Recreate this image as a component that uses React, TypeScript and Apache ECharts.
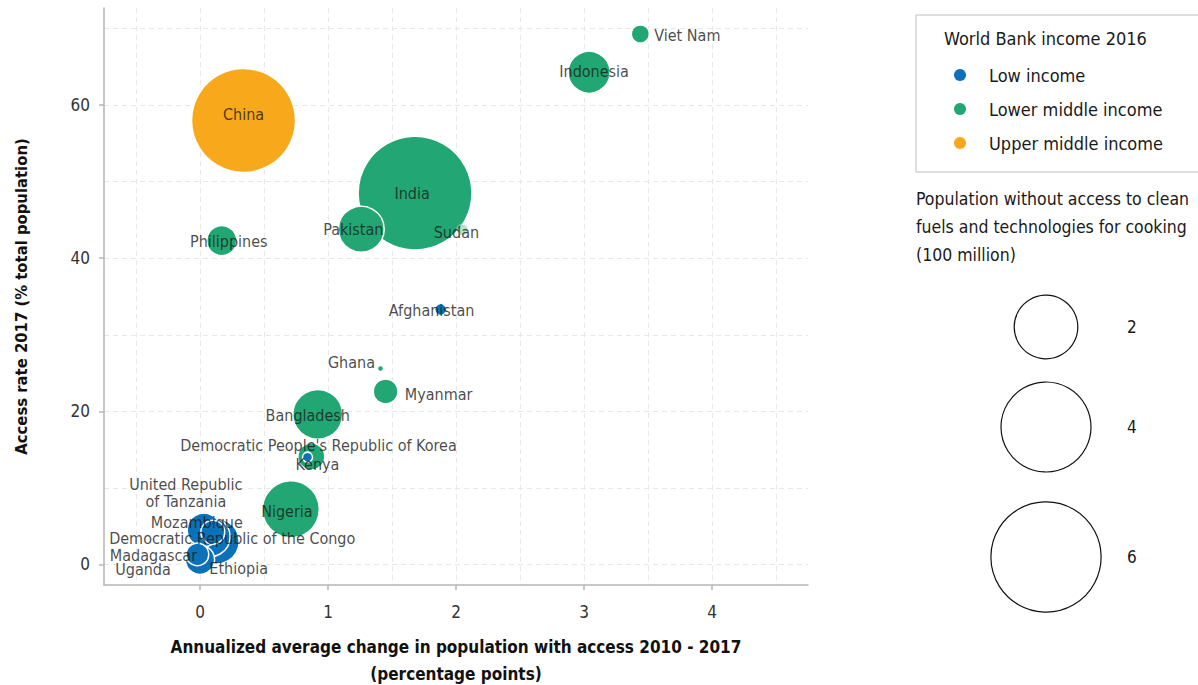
import React, { useEffect, useRef } from 'react';
import * as echarts from 'echarts';

// ---------- data ----------
const countries = [
  'India', 'China', 'Nigeria', 'Bangladesh', 'Pakistan', 'Ethiopia', 'Indonesia',
  'Democratic Republic of the Congo', 'United Republic\nof Tanzania', 'Philippines', 'Uganda',
  'Kenya', 'Myanmar', 'Mozambique', 'Madagascar', 'Viet Nam', 'Afghanistan', 'Sudan',
  "Democratic People's Republic of Korea", 'Ghana',
];
const incomeGroups = [
  'Lower middle income', 'Upper middle income', 'Lower middle income', 'Lower middle income',
  'Lower middle income', 'Low income', 'Lower middle income', 'Low income', 'Low income',
  'Lower middle income', 'Low income', 'Lower middle income', 'Lower middle income',
  'Low income', 'Low income', 'Lower middle income', 'Low income', 'Lower middle income',
  'Low income', 'Lower middle income',
];
// annualized average change 2010-2017 (percentage points)
const accessChange = [1.68, 0.34, 0.71, 0.92, 1.26, 0.13, 3.04, 0.08, 0.03, 0.17, 0.0, 0.87, 1.45, 0.1, -0.02, 3.44, 1.88, 2.05, 0.84, 1.41];
// access rate 2017 (% total population)
const accessRate = [48.5, 58.0, 7.2, 19.6, 43.8, 3.0, 64.3, 3.6, 4.5, 42.3, 0.6, 14.1, 22.6, 4.2, 1.3, 69.3, 33.3, 43.7, 14.0, 25.6];
// population without access (100 million)
const populationWithout = [6.4, 5.34, 1.6, 1.23, 1.04, 1.0, 0.87, 0.78, 0.55, 0.44, 0.42, 0.36, 0.3, 0.28, 0.25, 0.16, 0.07, 0.06, 0.05, 0.018];

const legendGroups = ['Low income', 'Lower middle income', 'Upper middle income'];
const sizeLegendValues = [2, 4, 6];
const xTicks = [0, 1, 2, 3, 4];
const yTicks = [0, 20, 40, 60];

// ---------- styles ----------
const groupColors: Record<string, string> = {
  'Low income': '#0b71b8',
  'Lower middle income': '#22a673',
  'Upper middle income': '#f8a81b',
};
const labelOffsets: Record<string, [number, number]> = {
  'India': [-3, 0],
  'China': [0, -6],
  'Nigeria': [-4, 2],
  'Bangladesh': [-10, 1],
  'Pakistan': [-8, 0],
  'Ethiopia': [22, 27],
  'Indonesia': [5, -1],
  'Democratic Republic of the Congo': [22, 2],
  'United Republic\nof Tanzania': [-18, -37],
  'Philippines': [7, 1],
  'Uganda': [-57, 10],
  'Kenya': [6, 8],
  'Myanmar': [53, 3],
  'Mozambique': [-16, -10],
  'Madagascar': [-44, 1],
  'Viet Nam': [47, 1],
  'Afghanistan': [-9, 1],
  'Sudan': [-6, 3],
  "Democratic People's Republic of Korea": [11, -12],
  'Ghana': [-29, -6],
};
const itemOpacity: Record<string, number> = { 'Sudan': 0.35 };

const FONT = "'Liberation Sans Narrow', 'DejaVu Sans Condensed', 'Open Sans', sans-serif";
const TEXT = '#1a1a1a';
const AXIS_GRAY = '#b5b5b5';
const GRID_GRAY = '#e8e8e8';

const diameter = (v: number) => 45 * Math.sqrt(v);

const X_MIN = -0.75, X_MAX = 4.75, Y_MIN = -2.7, Y_MAX = 72.7;

export default function App() {
  const ref = useRef<HTMLDivElement>(null);
  useEffect(() => {
    if (!ref.current) return;
    const chart = echarts.init(ref.current, undefined, { renderer: 'svg' });

    const points = countries.map((name, i) => ({
      name,
      value: [accessChange[i], accessRate[i], populationWithout[i]],
      itemStyle: {
        color: groupColors[incomeGroups[i]],
        opacity: itemOpacity[name] ?? 1,
      },
    }));
    const labelPoints = countries.map((name, i) => ({
      name,
      value: [accessChange[i], accessRate[i]],
    }));

    const sizeCenters = [327, 427, 557];
    const graphics: any[] = [
      {
        type: 'rect', x: 916, y: 15, silent: true,
        shape: { x: 0, y: 0, width: 320, height: 157 },
        style: { fill: 'none', stroke: '#bdbdbd', lineWidth: 1 },
      },
      {
        type: 'text', x: 944, y: 38, silent: true,
        style: { text: 'World Bank income 2016', fontSize: 18, fontFamily: FONT, fill: TEXT, verticalAlign: 'middle' },
      },
      {
        type: 'text', x: 916, y: 185, silent: true,
        style: {
          text: 'Population without access to clean\nfuels and technologies for cooking\n(100 million)',
          fontSize: 17.5, lineHeight: 28, fontFamily: FONT, fill: TEXT,
        },
      },
    ];
    sizeLegendValues.forEach((v, i) => {
      graphics.push({
        type: 'circle', silent: true,
        shape: { cx: 1046, cy: sizeCenters[i], r: diameter(v) / 2 },
        style: { fill: 'none', stroke: '#111', lineWidth: 1.2 },
      });
      graphics.push({
        type: 'text', silent: true, x: 1127, y: sizeCenters[i],
        style: { text: String(v), fontSize: 17, fontFamily: FONT, fill: TEXT, verticalAlign: 'middle' },
      });
    });

    const option: any = {
      animation: false,
      backgroundColor: '#fff',
      textStyle: { fontFamily: FONT },
      grid: { left: 104, width: 704, top: 8, height: 577, containLabel: false, outerBoundsMode: 'none' },
      legend: {
        data: legendGroups.map((g) => ({ name: g, itemStyle: { color: groupColors[g], opacity: 1 } })),
        orient: 'vertical',
        left: 954, top: 65,
        itemWidth: 12, itemHeight: 12, itemGap: 14,
        icon: 'circle',
        padding: 0,
        selectedMode: false,
        textStyle: { fontSize: 18, lineHeight: 20, color: TEXT, fontFamily: FONT, padding: [0, 0, 0, 18] },
      },
      xAxis: [
        {
          type: 'value', min: X_MIN, max: X_MAX, minInterval: 1, maxInterval: 1,
          name: 'Annualized average change in population with access 2010 - 2017\n(percentage points)',
          nameLocation: 'middle', nameGap: 48,
          nameTextStyle: { fontSize: 17, fontWeight: 'bold', color: '#111', lineHeight: 27, fontFamily: FONT },
          axisLine: { show: true, onZero: false, lineStyle: { color: AXIS_GRAY, width: 1.5 } },
          axisTick: { show: true, length: 5, customValues: xTicks, lineStyle: { color: AXIS_GRAY, width: 1.5 } },
          axisLabel: { customValues: xTicks, fontSize: 17, color: '#333', margin: 18, fontFamily: FONT },
          splitLine: { show: false },
        },
        {
          type: 'value', min: X_MIN, max: X_MAX, minInterval: 0.5, maxInterval: 0.5,
          axisLine: { show: false }, axisTick: { show: false }, axisLabel: { show: false },
          splitLine: { show: true, showMinLine: false, showMaxLine: false, lineStyle: { color: GRID_GRAY, type: [5, 4], width: 1 } },
        },
      ],
      yAxis: [
        {
          type: 'value', min: Y_MIN, max: Y_MAX, minInterval: 20, maxInterval: 20,
          name: 'Access rate 2017 (% total population)',
          nameLocation: 'middle', nameGap: 74,
          nameTextStyle: { fontSize: 16.5, fontWeight: 'bold', color: '#111', fontFamily: FONT },
          axisLine: { show: true, onZero: false, lineStyle: { color: AXIS_GRAY, width: 1.5 } },
          axisTick: { show: true, length: 5, customValues: yTicks, lineStyle: { color: AXIS_GRAY, width: 1.5 } },
          axisLabel: { customValues: yTicks, fontSize: 17, color: '#333', margin: 14, fontFamily: FONT },
          splitLine: { show: false },
        },
        {
          type: 'value', min: Y_MIN, max: Y_MAX, minInterval: 10, maxInterval: 10,
          axisLine: { show: false }, axisTick: { show: false }, axisLabel: { show: false },
          splitLine: { show: true, showMinLine: false, showMaxLine: false, lineStyle: { color: GRID_GRAY, type: [5, 4], width: 1 } },
        },
      ],
      series: [
        ...legendGroups.map((g) => ({
          type: 'scatter', name: g, data: [], itemStyle: { color: groupColors[g] },
        })),
        {
          type: 'scatter', name: 'bubbles', xAxisIndex: 0, yAxisIndex: 0,
          data: points,
          symbolSize: (val: number[]) => diameter(val[2]),
          itemStyle: { borderColor: '#fff', borderWidth: 1.5 },
          label: { show: false },
          z: 2,
        },
        {
          type: 'scatter', name: 'labels', xAxisIndex: 0, yAxisIndex: 0,
          data: labelPoints,
          symbolSize: 1,
          itemStyle: { color: 'transparent' },
          silent: true,
          z: 5,
          label: {
            show: true, position: 'inside', formatter: '{b}',
            fontSize: 16, lineHeight: 17, color: TEXT, fontFamily: FONT, align: 'center', verticalAlign: 'middle',
          },
          labelLayout: (params: any) => {
            const off = labelOffsets[countries[params.dataIndex]] || [0, 0];
            return { dx: off[0], dy: off[1], hideOverlap: false };
          },
        },
      ],
      graphic: graphics,
    };
    chart.setOption(option);
    return () => chart.dispose();
  }, []);
  return <div ref={ref} style={{ position: 'fixed', left: 0, top: 0, width: 1198, height: 685 }} />;
}
